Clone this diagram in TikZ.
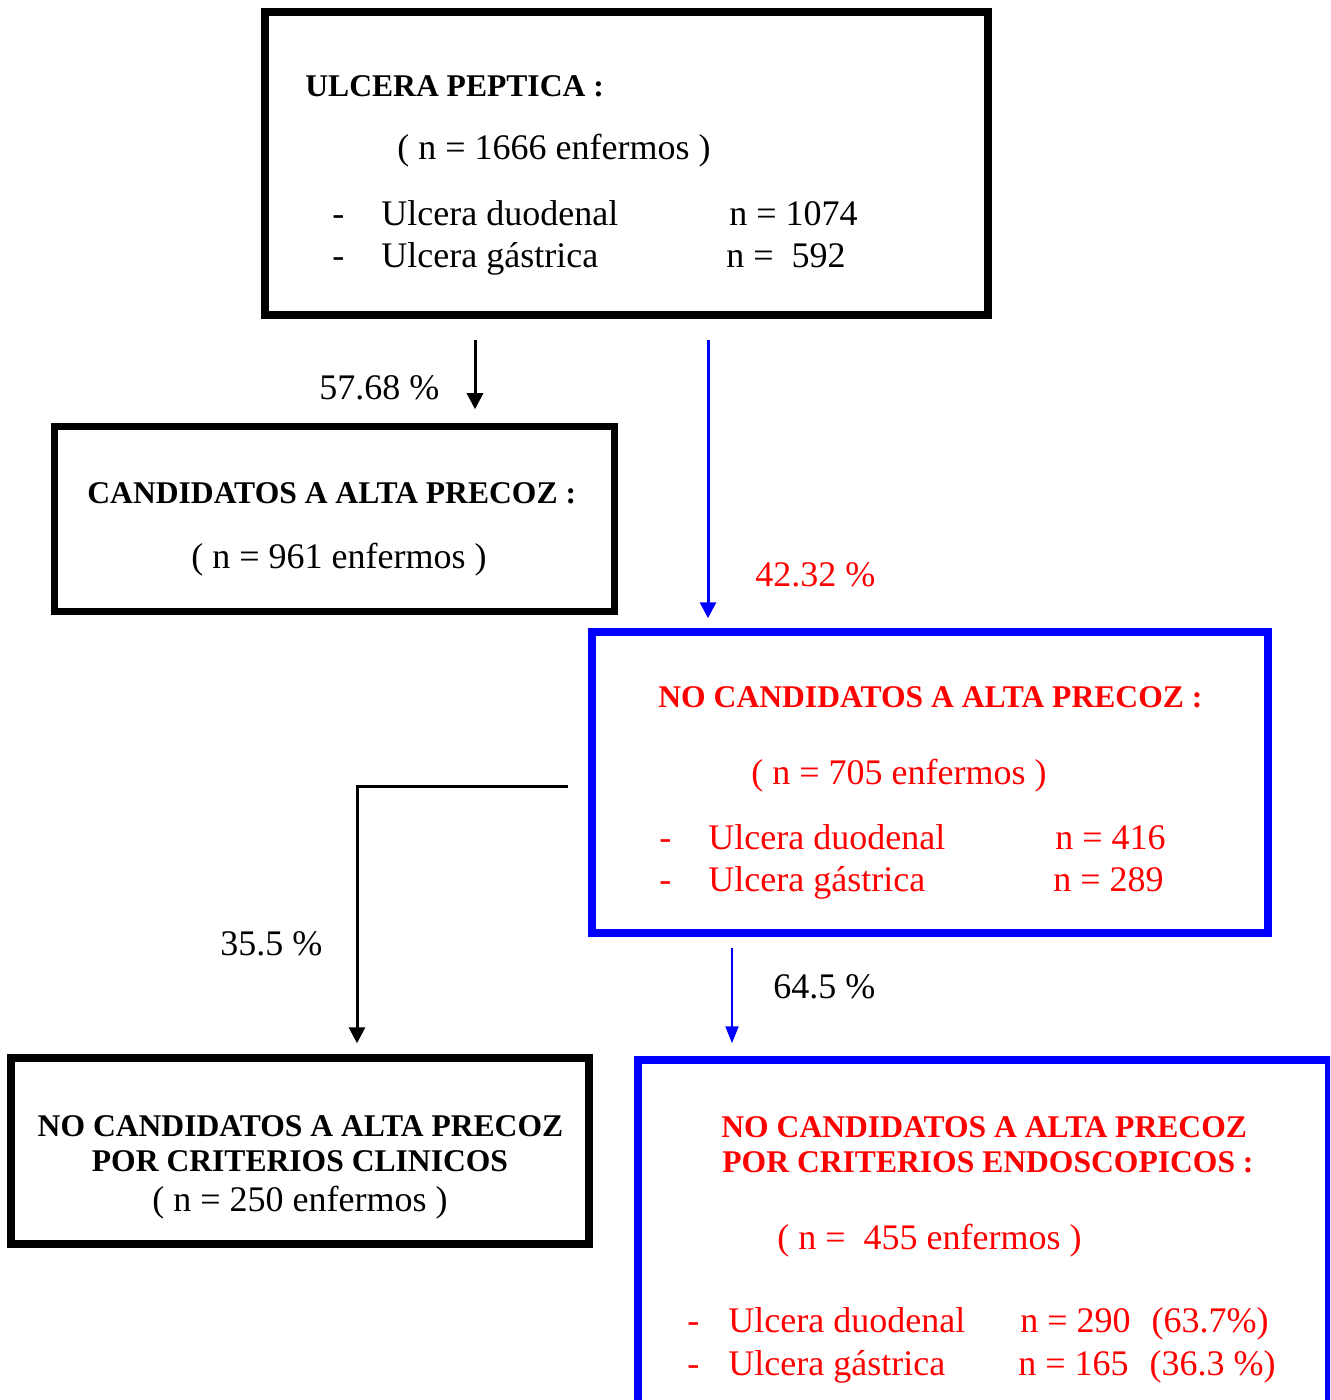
\documentclass[tikz,border=0pt]{standalone}
\usepackage{fontspec}
\setmainfont{Liberation Serif}
\usetikzlibrary{arrows.meta}
\definecolor{azul}{RGB}{0,0,255}
\definecolor{rojo}{RGB}{255,0,0}
\tikzset{
  caja/.style={draw, line width=3.75pt, inner sep=0pt},
  cajaazul/.style={caja, draw=azul},
  txt/.style={anchor=base west, inner sep=0pt, font=\fontsize{18}{21}\selectfont},
  tit/.style={anchor=base west, inner sep=0pt, font=\bfseries\fontsize{15.8}{18}\selectfont},
  flecha/.style={line width=1.5pt, -{Triangle[width=8pt,length=8pt]}},
}
\begin{document}
\begin{tikzpicture}[x=0.5pt,y=-0.5pt]
  \path[use as bounding box, clip] (0,0) rectangle (1330,1400);
  % cajas
  \path node[caja, minimum width=361.5pt, minimum height=151.5pt] (peptica) at (626.5,163.5) {};
  \path node[caja, minimum width=280pt, minimum height=92.5pt] (candidatos) at (334.5,519) {};
  \path node[cajaazul, minimum width=338pt, minimum height=150.5pt] (nocand) at (930,782.5) {};
  \path node[caja, minimum width=289pt, minimum height=93pt] (clinicos) at (300,1151) {};
  \path node[cajaazul, minimum width=345.5pt, minimum height=200pt] (endosc) at (983.5,1260) {};

  % ulcera peptica
  \node[tit] (pepticaTit) at (305,97) {ULCERA PEPTICA :};
  \node[txt] (pepticaN) at (397,160) {( n = 1666 enfermos )};
  \node[txt] (pepticaG1) at (332,226) {-};
  \node[txt] (pepticaD) at (381,226) {Ulcera duodenal};
  \node[txt] (pepticaDn) at (729,226) {n = 1074};
  \node[txt] (pepticaG2) at (332,268) {-};
  \node[txt] (pepticaG) at (381,268) {Ulcera gástrica};
  \node[txt] (pepticaGn) at (726,268) {n =\ \ 592};

  % candidatos
  \node[tit] (candTit) at (87,503) {CANDIDATOS A ALTA PRECOZ :};
  \node[txt] (candN) at (191,568) {( n = 961 enfermos )};

  % no candidatos
  \begin{scope}[rojo]
  \node[tit] (nocandTit) at (658,707) {NO CANDIDATOS A ALTA PRECOZ :};
  \node[txt] (nocandN) at (751,784) {( n = 705 enfermos )};
  \node[txt] (nocandG1) at (659,849) {-};
  \node[txt] (nocandD) at (708,849) {Ulcera duodenal};
  \node[txt] (nocandDn) at (1055,849) {n = 416};
  \node[txt] (nocandG2) at (659,891) {-};
  \node[txt] (nocandG) at (708,891) {Ulcera gástrica};
  \node[txt] (nocandGn) at (1053,891) {n = 289};
  \end{scope}

  % criterios clinicos
  \node[tit, anchor=base] (clinTit1) at (300.5,1136) {NO CANDIDATOS A ALTA PRECOZ};
  \node[tit, anchor=base] (clinTit2) at (300,1171) {POR CRITERIOS CLINICOS};
  \node[txt, anchor=base] (clinN) at (300,1211) {( n = 250 enfermos )};

  % criterios endoscopicos
  \begin{scope}[rojo]
  \node[tit] (endTit1) at (721,1137) {NO CANDIDATOS A ALTA PRECOZ};
  \node[tit] (endTit2) at (722,1172) {POR CRITERIOS ENDOSCOPICOS :};
  \node[txt] (endN) at (777,1249) {( n =\ \ 455 enfermos )};
  \node[txt] (endG1) at (687,1332) {-};
  \node[txt] (endD) at (728,1332) {Ulcera duodenal};
  \node[txt] (endDn) at (1020,1332) {n = 290\hspace{10.5pt}(63.7\%)};
  \node[txt] (endG2) at (687,1375) {-};
  \node[txt] (endG) at (728,1375) {Ulcera gástrica};
  \node[txt] (endGn) at (1018,1375) {n = 165\hspace{10.5pt}(36.3 \%)};
  \end{scope}

  % flechas
  \coordinate (s1) at (475,340);
  \coordinate (s2) at (708,340);
  \coordinate (s3) at (568,786);
  \coordinate (s4) at (732,948);
  \draw[flecha, shorten >=6.75pt] (s1) -- (s1 |- candidatos.north);
  \draw[flecha, azul, shorten >=5pt] (s2) -- (s2 |- nocand.north);
  \draw[flecha, shorten >=5.5pt] (s3) -| ([xshift=28.5pt]clinicos.north);
  \draw[flecha, azul, line width=1pt, -{Triangle[width=6.5pt,length=8.5pt]}, shorten >=6.5pt] (s4) -- (s4 |- endosc.north);

  % porcentajes
  \node[txt] (p1) at (319,400) {57.68 \%};
  \node[txt, rojo] (p2) at (755,586) {42.32 \%};
  \node[txt] (p3) at (220,955) {35.5 \%};
  \node[txt] (p4) at (773,998) {64.5 \%};
\end{tikzpicture}
\end{document}
